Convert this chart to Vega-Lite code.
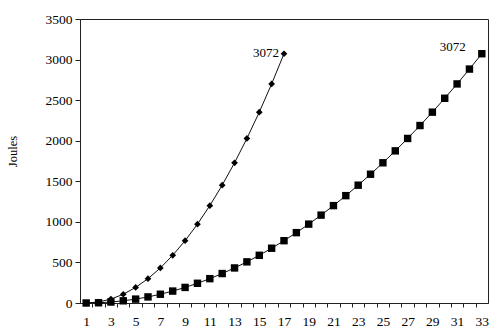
{
  "$schema": "https://vega.github.io/schema/vega-lite/v6.json",
  "width": 408,
  "height": 284,
  "autosize": {"type": "none"},
  "padding": {"left": 80, "top": 19, "right": 12, "bottom": 28},
  "background": "white",
  "config": {
    "view": {"stroke": "#222", "strokeWidth": 1},
    "font": "Liberation Serif"
  },
  "datasets": {
    "pts": [
      {"n": 1, "j": 0, "s": "A"}, {"n": 2, "j": 12, "s": "A"}, {"n": 3, "j": 48, "s": "A"}, {"n": 4, "j": 108, "s": "A"},
      {"n": 5, "j": 192, "s": "A"}, {"n": 6, "j": 300, "s": "A"}, {"n": 7, "j": 432, "s": "A"}, {"n": 8, "j": 588, "s": "A"},
      {"n": 9, "j": 768, "s": "A"}, {"n": 10, "j": 972, "s": "A"}, {"n": 11, "j": 1200, "s": "A"}, {"n": 12, "j": 1452, "s": "A"},
      {"n": 13, "j": 1728, "s": "A"}, {"n": 14, "j": 2028, "s": "A"}, {"n": 15, "j": 2352, "s": "A"}, {"n": 16, "j": 2700, "s": "A"},
      {"n": 17, "j": 3072, "s": "A"},
      {"n": 1, "j": 0, "s": "B"}, {"n": 2, "j": 3, "s": "B"}, {"n": 3, "j": 12, "s": "B"}, {"n": 4, "j": 27, "s": "B"},
      {"n": 5, "j": 48, "s": "B"}, {"n": 6, "j": 75, "s": "B"}, {"n": 7, "j": 108, "s": "B"}, {"n": 8, "j": 147, "s": "B"},
      {"n": 9, "j": 192, "s": "B"}, {"n": 10, "j": 243, "s": "B"}, {"n": 11, "j": 300, "s": "B"}, {"n": 12, "j": 363, "s": "B"},
      {"n": 13, "j": 432, "s": "B"}, {"n": 14, "j": 507, "s": "B"}, {"n": 15, "j": 588, "s": "B"}, {"n": 16, "j": 675, "s": "B"},
      {"n": 17, "j": 768, "s": "B"}, {"n": 18, "j": 867, "s": "B"}, {"n": 19, "j": 972, "s": "B"}, {"n": 20, "j": 1083, "s": "B"},
      {"n": 21, "j": 1200, "s": "B"}, {"n": 22, "j": 1323, "s": "B"}, {"n": 23, "j": 1452, "s": "B"}, {"n": 24, "j": 1587, "s": "B"},
      {"n": 25, "j": 1728, "s": "B"}, {"n": 26, "j": 1875, "s": "B"}, {"n": 27, "j": 2028, "s": "B"}, {"n": 28, "j": 2187, "s": "B"},
      {"n": 29, "j": 2352, "s": "B"}, {"n": 30, "j": 2523, "s": "B"}, {"n": 31, "j": 2700, "s": "B"}, {"n": 32, "j": 2883, "s": "B"},
      {"n": 33, "j": 3072, "s": "B"}
    ],
    "labelA": [{"n": 17, "j": 3072, "t": "3072"}],
    "labelB": [{"n": 33, "j": 3072, "t": "3072"}]
  },
  "resolve": {"axis": {"x": "independent"}},
  "layer": [
    {
      "data": {"name": "pts"},
      "mark": {"type": "line", "color": "#111", "strokeWidth": 1},
      "encoding": {
        "x": {"field": "n", "type": "quantitative", "scale": {"domain": [0.5, 33.5], "nice": false, "zero": false},
          "axis": {"orient": "bottom", "values": [1.5,2.5,3.5,4.5,5.5,6.5,7.5,8.5,9.5,10.5,11.5,12.5,13.5,14.5,15.5,16.5,17.5,18.5,19.5,20.5,21.5,22.5,23.5,24.5,25.5,26.5,27.5,28.5,29.5,30.5,31.5,32.5],
            "labels": false, "title": null, "grid": false, "domainColor": "#222", "tickColor": "#222", "tickSize": 4}},
        "y": {"field": "j", "type": "quantitative", "scale": {"domain": [0, 3500], "nice": false},
          "axis": {"values": [0, 500, 1000, 1500, 2000, 2500, 3000, 3500], "format": "d", "grid": false, "title": "Joules",
            "titleFont": "Liberation Serif", "titleFontWeight": "normal", "titleFontSize": 12.5, "titleColor": "#000",
            "titleX": -68, "titleY": 132, "titleAngle": -90, "titleAlign": "center", "titleBaseline": "middle",
            "labelFont": "Liberation Serif", "labelFontSize": 13.5, "labelColor": "#000", "labelPadding": 3,
            "domainColor": "#222", "tickColor": "#222", "tickSize": 5}},
        "detail": {"field": "s"}
      }
    },
    {
      "data": {"name": "pts"},
      "mark": {"type": "point", "filled": true, "color": "#000", "opacity": 1},
      "encoding": {
        "x": {"field": "n", "type": "quantitative",
          "axis": {"orient": "bottom", "values": [1,3,5,7,9,11,13,15,17,19,21,23,25,27,29,31,33], "ticks": false, "domain": false, "grid": false, "title": null,
            "labelFont": "Liberation Serif", "labelFontSize": 13.5, "labelColor": "#000", "labelPadding": 11}},
        "y": {"field": "j", "type": "quantitative"},
        "shape": {"field": "s", "type": "nominal", "scale": {"domain": ["A", "B"], "range": ["diamond", "square"]}, "legend": null},
        "size": {"field": "s", "type": "nominal", "scale": {"domain": ["A", "B"], "range": [45, 55]}, "legend": null}
      }
    },
    {
      "data": {"name": "labelA"},
      "mark": {"type": "text", "align": "right", "baseline": "middle", "dx": -5, "dy": -1, "font": "Liberation Serif", "fontSize": 13, "color": "#000"},
      "encoding": {
        "x": {"field": "n", "type": "quantitative", "axis": null},
        "y": {"field": "j", "type": "quantitative"},
        "text": {"field": "t"}
      }
    },
    {
      "data": {"name": "labelB"},
      "mark": {"type": "text", "align": "right", "baseline": "middle", "dx": -16, "dy": -7, "font": "Liberation Serif", "fontSize": 13, "color": "#000"},
      "encoding": {
        "x": {"field": "n", "type": "quantitative", "axis": null},
        "y": {"field": "j", "type": "quantitative"},
        "text": {"field": "t"}
      }
    }
  ]
}
